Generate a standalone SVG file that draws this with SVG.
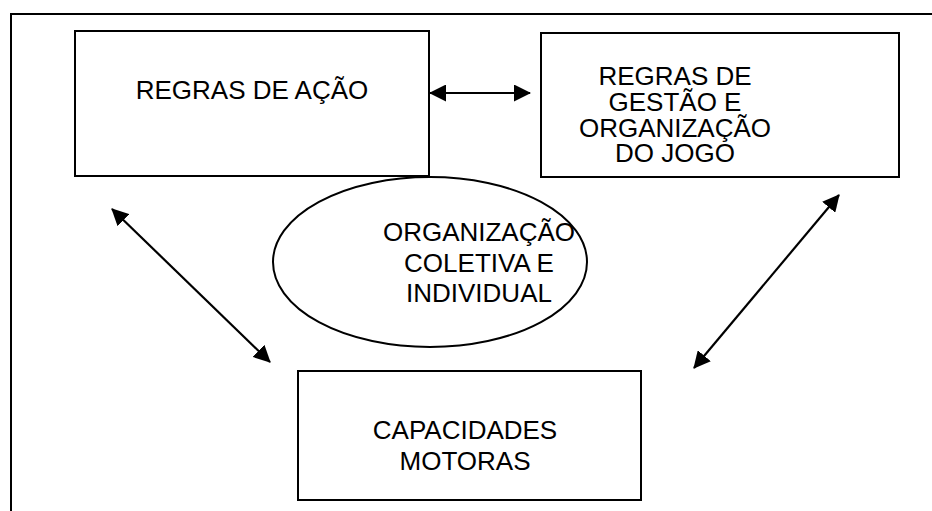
<svg xmlns="http://www.w3.org/2000/svg" width="932" height="511" viewBox="0 0 932 511">
<style>
.box{fill:#fff;stroke:#000;stroke-width:2}
.lbl{font-family:"Liberation Sans",Arial,sans-serif;font-size:26px;fill:#000;text-anchor:middle}
.conn{stroke:#000;stroke-width:2.2;fill:none;marker-start:url(#ah);marker-end:url(#ah)}
</style>
<defs>
<marker id="ah" markerUnits="userSpaceOnUse" markerWidth="17" markerHeight="17" refX="16" refY="8.5" orient="auto-start-reverse" viewBox="0 0 17 17">
<path d="M0,0 L17,8.5 L0,17 z" fill="#000"/>
</marker>
</defs>
<g id="frame">
<path d="M11,511 V14 H932" fill="none" stroke="#000" stroke-width="2"/>
</g>
<g id="regras-acao">
<rect class="box" x="75" y="31" width="354" height="145"/>
<text class="lbl" x="252" y="99">REGRAS DE AÇÃO</text>
</g>
<g id="regras-gestao">
<rect class="box" x="541" y="33" width="358" height="144"/>
<text class="lbl" x="675" y="85">REGRAS DE</text>
<text class="lbl" x="675" y="111">GESTÃO E</text>
<text class="lbl" x="675" y="137">ORGANIZAÇÃO</text>
<text class="lbl" x="675" y="162">DO JOGO</text>
</g>
<g id="organizacao">
<ellipse cx="430" cy="262" rx="157" ry="85" fill="#fff" stroke="#000" stroke-width="2"/>
<text class="lbl" x="479" y="241">ORGANIZAÇÃO</text>
<text class="lbl" x="479" y="272">COLETIVA E</text>
<text class="lbl" x="479" y="302">INDIVIDUAL</text>
</g>
<g id="capacidades">
<rect class="box" x="298" y="371" width="343" height="129"/>
<text class="lbl" x="465" y="439">CAPACIDADES</text>
<text class="lbl" x="465" y="470">MOTORAS</text>
</g>
<g id="connectors">
<line class="conn" x1="430" y1="93" x2="530" y2="93"/>
<line class="conn" x1="112" y1="209" x2="270" y2="362"/>
<line class="conn" x1="839" y1="195" x2="694" y2="368"/>
</g>
</svg>
